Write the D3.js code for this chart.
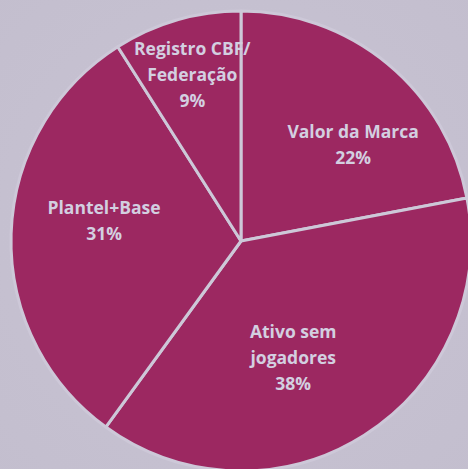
<!DOCTYPE html>
<html>
<head>
<meta charset="utf-8">
<script src="https://cdn.jsdelivr.net/npm/d3@7"></script>
<style>
html,body{margin:0;padding:0;background:#c7c2d2;}
svg{display:block;}
</style>
</head>
<body>
<svg id="chart" width="468" height="469"></svg>
<script>
const categories = ["Valor da Marca", "Ativo sem jogadores", "Plantel+Base", "Registro CBF/ Federação"];
const values = [22, 38, 31, 9];
const labelLines = [["Valor da Marca"], ["Ativo sem", "jogadores"], ["Plantel+Base"], ["Registro CBF/", "Federação"]];

const W = 468, H = 469;
const cx = 241, cy = 241, R = 230;
const svg = d3.select("#chart");

const defs = svg.append("defs");
const bg = defs.append("radialGradient").attr("id","bg").attr("cx","50%").attr("cy","50%").attr("r","75%");
bg.append("stop").attr("offset","0%").attr("stop-color","#c9c4d4");
bg.append("stop").attr("offset","100%").attr("stop-color","#c3bece");
svg.append("rect").attr("width",W).attr("height",H).attr("fill","url(#bg)");

const pie = d3.pie().sort(null).value(d => d)(values);
const arc = d3.arc().innerRadius(0).outerRadius(R);
const g = svg.append("g").attr("transform", `translate(${cx},${cy})`);

g.selectAll("path.slice").data(pie).join("path")
  .attr("class","slice")
  .attr("d", arc)
  .attr("fill", "#9c2861")
  .attr("stroke", "#cdc8d8")
  .attr("stroke-width", 3)
  .attr("stroke-linejoin","round");

// label layout (Excel "best fit"-like placement relative to centroid)
const labelArc = d3.arc().innerRadius(0).outerRadius(R * 1.27);
const nudges = [[19, 16], [-26, -6.5], [9, -15.6], [-8, -26]];
const lineH = 26, capH = 12.5;

pie.forEach((p, i) => {
  const [x0, y0] = labelArc.centroid(p);
  const lines = labelLines[i].concat([values[i] + "%"]);
  const x = x0 + nudges[i][0];
  const yc = y0 + nudges[i][1];
  const b1 = yc - ((lines.length - 1) * lineH - capH) / 2;
  const t = g.append("text")
    .attr("x", x)
    .attr("y", b1)
    .attr("text-anchor", "middle")
    .attr("font-family", "'Open Sans', 'Noto Sans', sans-serif")
    .attr("font-weight", "bold")
    .attr("font-size", 17.5)
    .attr("fill", "#d3cfe0");
  lines.forEach((l, k) => {
    t.append("tspan").attr("x", x).attr("dy", k === 0 ? 0 : lineH).text(l);
  });
});
</script>
</body>
</html>
